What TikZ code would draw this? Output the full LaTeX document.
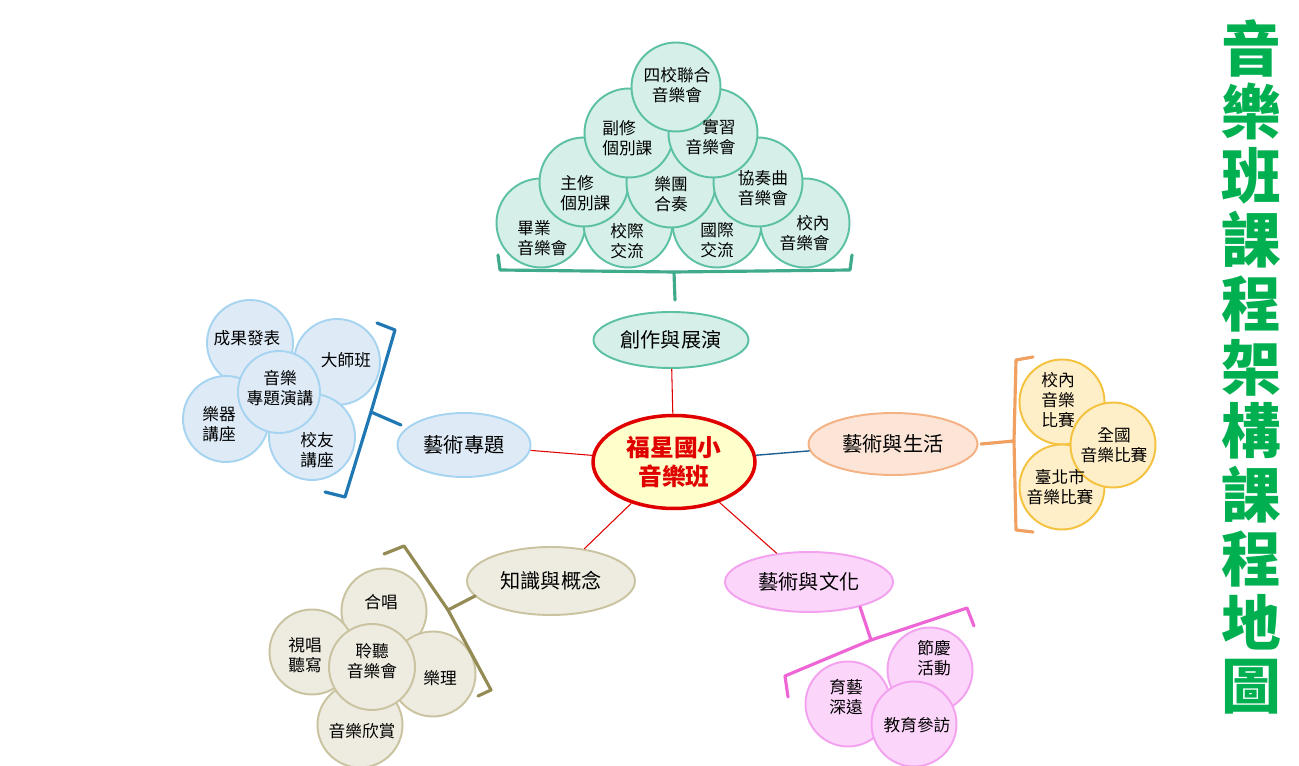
\documentclass[tikz,border=0pt]{standalone}
\usepackage{fontspec}
\setmainfont{Noto Sans CJK TC}
\usetikzlibrary{shapes.geometric}
\definecolor{tealF}{HTML}{D6F0E9}
\definecolor{tealD}{HTML}{5CC0A4}
\definecolor{tealB}{HTML}{3FAA8C}
\definecolor{yelF}{HTML}{FFFFCC}
\definecolor{redD}{HTML}{E00000}
\definecolor{oraEF}{HTML}{FCE4D6}
\definecolor{oraED}{HTML}{F4B183}
\definecolor{oraB}{HTML}{F0A060}
\definecolor{goldF}{HTML}{FFEFC9}
\definecolor{goldD}{HTML}{F5C240}
\definecolor{bluF}{HTML}{DEEBF7}
\definecolor{bluD}{HTML}{A6D4F0}
\definecolor{bluB}{HTML}{1F77B4}
\definecolor{bluL}{HTML}{1F5F8F}
\definecolor{oliF}{HTML}{EEECE1}
\definecolor{oliD}{HTML}{C9C3A0}
\definecolor{oliB}{HTML}{948A54}
\definecolor{pinF}{HTML}{FCD5FB}
\definecolor{pinD}{HTML}{F2A2EE}
\definecolor{pinB}{HTML}{EE66D6}
\definecolor{titleG}{HTML}{00B050}
\tikzset{
  circ/.style={circle, line width=1.1pt, minimum size=1.72cm, inner sep=0pt},
  tealc/.style={circ, fill=tealF, draw=tealD, minimum size=1.78cm},
  goldc/.style={circ, fill=goldF, draw=goldD, minimum size=1.7cm},
  bluc/.style={circ, fill=bluF, draw=bluD},
  olic/.style={circ, fill=oliF, draw=oliD, minimum size=1.7cm},
  pinc/.style={circ, fill=pinF, draw=pinD, minimum size=1.7cm},
  lbl/.style={inner sep=0pt, align=center, font=\fontsize{9.5}{11.3}\selectfont},
  topic/.style={ellipse, line width=1.1pt, inner sep=0pt, minimum width=3.3cm, minimum height=1.2cm, font=\fontsize{11.5}{13}\selectfont},
  brace/.style={line width=1.8pt, line join=round, line cap=round},
  link/.style={draw=redD, line width=0.6pt}
}
\begin{document}
\begin{tikzpicture}[x=0.02cm,y=-0.02cm]
\useasboundingbox (0,0) rectangle (1299,766);
\fill[white] (0,0) rectangle (1299,766);

% centre
\node[ellipse, fill=yelF, draw=redD, line width=2pt, minimum width=3.24cm, minimum height=1.86cm, inner sep=0pt, align=center, text=redD, font=\fontsize{13.5}{16.5}\selectfont\bfseries] (main) at (674,462) {福星國小\\音樂班};

% topic ellipses
\node[topic, fill=tealF, draw=tealD, minimum width=3.1cm, minimum height=1.12cm] (t1) at (671,340) {創作與展演};
\node[topic, fill=oraEF, draw=oraED, minimum width=3.38cm, minimum height=1.24cm] (t2) at (893,444) {藝術與生活};
\node[topic, fill=bluF, draw=bluD, minimum width=2.66cm, minimum height=1.28cm] (t3) at (464,445) {藝術專題};
\node[topic, fill=oliF, draw=oliD, minimum width=3.36cm, minimum height=1.36cm] (t4) at (551,581) {知識與概念};
\node[topic, fill=pinF, draw=pinD, minimum width=3.36cm, minimum height=1.2cm] (t5) at (809,582) {藝術與文化};

% links
\draw[link] (main) -- (t1);
\draw[draw=bluL, line width=0.8pt] (main) -- (t2);
\draw[link] (main) -- (t3);
\draw[link] (main) -- (t4);
\draw[link] (main) -- (t5);

% top pyramid
\node[tealc] (p41) at (541,223) {};
\node[tealc] (p42) at (628,223) {};
\node[tealc] (p43) at (717,223) {};
\node[tealc] (p44) at (805,223) {};
\node[tealc] (p31) at (584,182) {};
\node[tealc] (p32) at (671,183) {};
\node[tealc] (p33) at (758,182) {};
\node[tealc] (p21) at (629,133) {};
\node[tealc] (p22) at (713,133) {};
\node[tealc] (p11) at (676,87) {};
\node[lbl, align=left, anchor=west] (q41) at (517,238) {畢業\\音樂會};
\node[lbl] (q42) at (627,241) {校際\\交流};
\node[lbl] (q43) at (717,240) {國際\\交流};
\node[lbl, align=right, anchor=east] (q44) at (830,233) {校內\\音樂會};
\node[lbl, align=left, anchor=west] (q31) at (560,193) {主修\\個別課};
\node[lbl] (q32) at (671,194) {樂團\\合奏};
\node[lbl] (q33) at (763,188) {協奏曲\\音樂會};
\node[lbl, align=left, anchor=west] (q21) at (602,138) {副修\\個別課};
\node[lbl, align=right, anchor=east] (q22) at (736,137) {實習\\音樂會};
\node[lbl] (q11) at (677,85) {四校聯合\\音樂會};
\draw[brace, draw=tealB] (498,255) -- (500,270) -- (674,272) -- (675,300);
\draw[brace, draw=tealB] (674,272) -- (850,270) -- (852,255);

% blue group
\node[bluc] (b1) at (250,343) {};
\node[bluc] (b2) at (337,362) {};
\node[bluc] (b3) at (226,419) {};
\node[bluc] (b4) at (312,437) {};
\node[bluc, minimum size=1.64cm] (b5) at (279,392) {};
\node[lbl] (c1l) at (247,338) {成果發表};
\node[lbl] (c2l) at (346,360) {大師班};
\node[lbl] (c3l) at (219,424) {樂器\\講座};
\node[lbl] (c4l) at (317,450) {校友\\講座};
\node[lbl] (c5l) at (280,388) {音樂\\專題演講};
\draw[brace, draw=bluB] (377,323) -- (395,330) -- (371,412) -- (401,425);
\draw[brace, draw=bluB] (371,412) -- (345,497) -- (325,492);

% orange group
\node[goldc] (o1) at (1062,402) {};
\node[goldc] (o3) at (1062,487) {};
\node[goldc] (o2) at (1113,445) {};
\node[lbl] (o1l) at (1058,400) {校內\\音樂\\比賽};
\node[lbl] (o3l) at (1060,487) {臺北市\\音樂比賽};
\node[lbl] (o2l) at (1114,445) {全國\\音樂比賽};
\draw[brace, draw=oraB] (1033,357) -- (1016,360) -- (1014,441) -- (981,444);
\draw[brace, draw=oraB] (1014,441) -- (1016,530) -- (1033,532);

% olive group
\node[olic] (k1) at (384,611) {};
\node[olic] (k2) at (312,652) {};
\node[olic] (k3) at (433,674) {};
\node[olic] (k4) at (360,725) {};
\node[olic, minimum size=1.72cm] (k5) at (372,667) {};
\node[lbl] (k1l) at (381,602) {合唱};
\node[lbl] (k2l) at (305,655) {視唱\\聽寫};
\node[lbl] (k3l) at (440,678) {樂理};
\node[lbl] (k4l) at (362,731) {音樂欣賞};
\node[lbl] (k5l) at (372,661) {聆聽\\音樂會};
\draw[brace, draw=oliB] (384,554) -- (404,546) -- (448,610) -- (475,596);
\draw[brace, draw=oliB] (448,610) -- (491,690) -- (478,696);

% pink group
\node[pinc] (c1) at (930,670) {};
\node[pinc] (c2) at (848,704) {};
\node[pinc] (c3) at (914,724) {};
\node[lbl] (c1l) at (934,658) {節慶\\活動};
\node[lbl] (c2l) at (846,697) {育藝\\深遠};
\node[lbl] (c3l) at (917,725) {教育參訪};
\draw[brace, draw=pinB] (860,607) -- (871,640) -- (785,676) -- (788,697);
\draw[brace, draw=pinB] (871,640) -- (967,608) -- (974,626);

% title
\node[text=titleG, align=center, inner sep=0pt, font=\fontsize{34}{36.3}\selectfont\bfseries] (title) at (1251,367) {音\\樂\\班\\課\\程\\架\\構\\課\\程\\地\\圖};
\end{tikzpicture}
\end{document}
